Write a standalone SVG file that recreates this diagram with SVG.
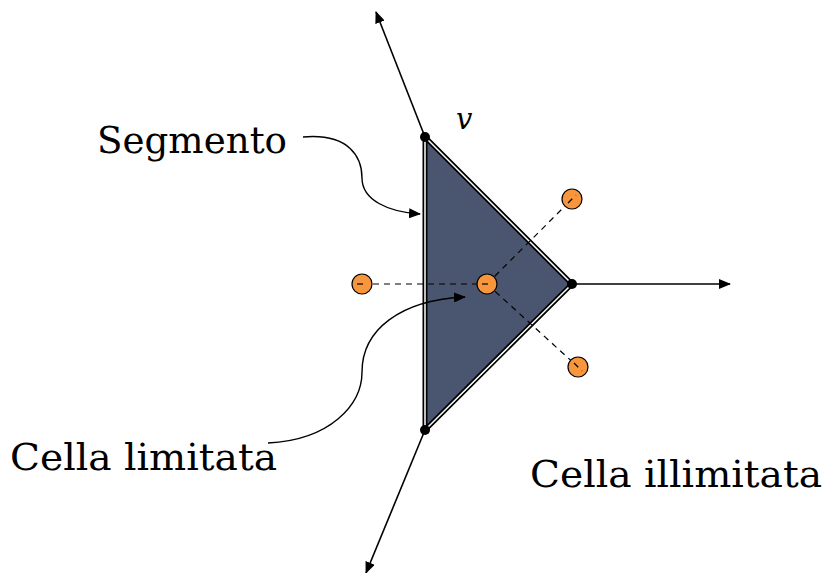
<svg xmlns="http://www.w3.org/2000/svg" width="829" height="573" viewBox="0 0 829 573">
<style>
.lbl{font-family:"DejaVu Serif","Liberation Serif",serif;font-size:37px;fill:#000}
.ray{stroke:#000;stroke-width:1.6;fill:none}
.dash{stroke:#000;stroke-width:1.2;stroke-dasharray:6,5;fill:none}
.site{fill:#f7963c;stroke:#000;stroke-width:1.2}
.vtx{fill:#000}
.curve{stroke:#000;stroke-width:1.4;fill:none}
</style>
<defs>
<marker id="ah" markerWidth="12" markerHeight="10" refX="11" refY="5" orient="auto" markerUnits="userSpaceOnUse">
<path d="M0,0 L12,5 L0,10 z" fill="#000"/>
</marker>
</defs>
<rect width="829" height="573" fill="#fff"/>
<g id="cell">
<polygon points="425,137 572,284 425,430" fill="#4a5570" stroke="#000" stroke-width="5" stroke-linejoin="miter"/>
<polygon points="425,137 572,284 425,430" fill="none" stroke="#fff" stroke-width="1.5"/>
</g>
<g id="connectors">
<line class="ray" x1="425" y1="137" x2="376" y2="12" marker-end="url(#ah)"/>
<line class="ray" x1="572" y1="284" x2="730" y2="284" marker-end="url(#ah)"/>
<line class="ray" x1="425" y1="430" x2="366" y2="573" marker-end="url(#ah)"/>
<line class="dash" x1="362" y1="284" x2="487" y2="284"/>
<line class="dash" x1="487" y1="284" x2="572" y2="199"/>
<line class="dash" x1="487" y1="284" x2="578" y2="367"/>
<path class="curve" d="M303,137 C350,133 362,158 362,178 C362,200 388,212 420,214" marker-end="url(#ah)"/>
<path class="curve" d="M268,443 C330,440 362,405 362,372 C362,330 400,300 465,297" marker-end="url(#ah)"/>
</g>
<g id="sites">
<circle class="site" cx="362" cy="284" r="10"/>
<circle class="site" cx="487" cy="284" r="10"/>
<circle class="site" cx="572" cy="199" r="10"/>
<circle class="site" cx="578" cy="367" r="10"/>
<line class="dash" x1="357" y1="284" x2="367" y2="284" stroke-dasharray="none"/>
<line class="dash" x1="482" y1="284" x2="492" y2="284" stroke-dasharray="none"/>
<line class="dash" x1="568" y1="203" x2="576" y2="195" stroke-dasharray="none"/>
<line class="dash" x1="574" y1="363" x2="582" y2="371" stroke-dasharray="none"/>
</g>
<g id="vertices">
<circle class="vtx" cx="425" cy="137" r="5"/>
<circle class="vtx" cx="572" cy="284" r="5"/>
<circle class="vtx" cx="425" cy="430" r="5"/>
</g>
<g id="labels">
<text class="lbl" x="97" y="153" textLength="190" lengthAdjust="spacingAndGlyphs">Segmento</text>
<text class="lbl" x="10" y="470" textLength="267" lengthAdjust="spacingAndGlyphs">Cella limitata</text>
<text class="lbl" x="530" y="487" textLength="292" lengthAdjust="spacingAndGlyphs">Cella illimitata</text>
<text x="456" y="129" style="font-family:'DejaVu Serif','Liberation Serif',serif;font-size:29px;font-style:italic">v</text>
</g>
</svg>
